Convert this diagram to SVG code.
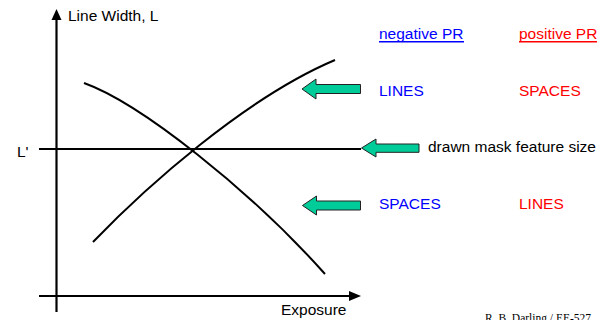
<svg xmlns="http://www.w3.org/2000/svg" width="613" height="320" viewBox="0 0 613 320">
<style>
.t{font-family:"Liberation Sans",Arial,sans-serif;font-size:15.5px;fill:#000}
.b{fill:#0000ff}
.r{fill:#ff0000}
.ax{stroke:#000;stroke-width:2.2;fill:none}
.cv{stroke:#000;stroke-width:2;fill:none}
.ar{fill:#00cc99;stroke:#222;stroke-width:1}
</style>
<rect width="613" height="320" fill="#fff"/>
<g id="axes">
<line class="ax" x1="56.5" y1="312" x2="56.5" y2="18"/>
<polygon points="56.5,9 51.5,20 61.5,20" fill="#000"/>
<line class="ax" x1="39" y1="296" x2="351" y2="296"/>
<polygon points="361,296 349,291 349,301" fill="#000"/>
<text class="t" x="68" y="21" font-size="15">Line Width, L</text>
<text class="t" x="281" y="315">Exposure</text>
<text class="t" x="17" y="157">L'</text>
</g>
<g id="connectors">
<line class="ax" x1="39" y1="149" x2="361" y2="149"/>
<path class="cv" d="M84,83 C140,103 250,190 325,274"/>
<path class="cv" d="M93,242 C145,188 245,98 335,60"/>
</g>
<g id="arrow-lines">
<polygon class="ar" points="302,89 316,79 316,84.5 360.5,84.5 360.5,93.5 316,93.5 316,99"/>
</g>
<g id="arrow-mask">
<polygon class="ar" points="361.5,148 376,139 376,144 419,144 419,152.3 376,152.3 376,157"/>
</g>
<g id="arrow-spaces">
<polygon class="ar" points="302.5,205.5 316.5,196 316.5,201 360.5,201 360.5,210 316.5,210 316.5,215"/>
</g>
<g id="header-negative">
<text class="t b" x="379" y="39">negative PR</text>
<line x1="379" y1="41.8" x2="464" y2="41.8" stroke="#0000ff" stroke-width="1.5"/>
</g>
<g id="header-positive">
<text class="t r" x="519" y="39">positive PR</text>
<line x1="519" y1="41.8" x2="597" y2="41.8" stroke="#ff0000" stroke-width="1.5"/>
</g>
<g id="row-top">
<text class="t b" x="379" y="96">LINES</text>
<text class="t r" x="519" y="96">SPACES</text>
</g>
<g id="row-mask">
<text class="t" x="428" y="152">drawn mask feature size</text>
</g>
<g id="row-bottom">
<text class="t b" x="379" y="209">SPACES</text>
<text class="t r" x="519" y="209">LINES</text>
</g>
<g id="footer">
<text x="485" y="322" font-family="'Liberation Serif','Times New Roman',serif" font-size="11.5" fill="#000">R. B. Darling / EE-527</text>
</g>
</svg>
